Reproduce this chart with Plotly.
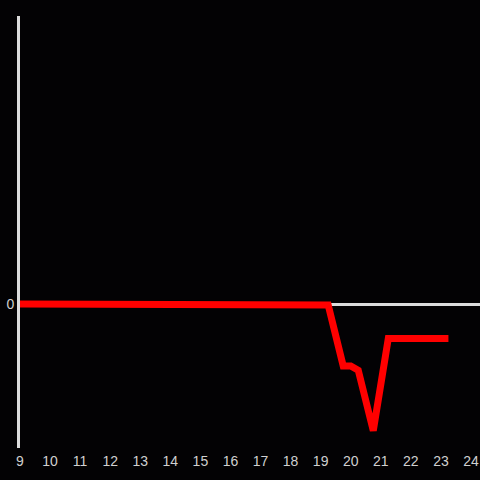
import plotly.graph_objects as go

hours = [9.0, 12.5, 12.75, 19.25, 19.75, 20.0, 20.25, 20.75, 21.25, 23.25]
values = [0.0, 0.0, -0.02, -0.02, -1.29, -1.29, -1.38, -2.64, -0.72, -0.72]

x_ticks = list(range(9, 25))
y_ticks = [0]

fig = go.Figure()
fig.add_trace(go.Scatter(
    x=hours, y=values, mode="lines",
    line=dict(color="#ff0000", width=7),
    hoverinfo="skip", showlegend=False,
))

fig.update_layout(
    width=480, height=480,
    margin=dict(l=20, r=0, t=16, b=32),
    paper_bgcolor="#030204", plot_bgcolor="#030204",
    font=dict(family="Liberation Sans, Arial, sans-serif", size=14, color="#d0d0d0"),
    xaxis=dict(range=[9, 24.3], tickvals=x_ticks, ticktext=[str(t) for t in x_ticks],
               showgrid=False, zeroline=False, showline=False, ticks="", automargin=False,
               ticklabelstandoff=3),
    yaxis=dict(range=[-3, 6], tickvals=y_ticks, ticktext=["0"],
               showgrid=False, zeroline=True, zerolinecolor="#dcdcdc", zerolinewidth=3,
               showline=True, linecolor="#dcdcdc", linewidth=3, ticks="", automargin=False),
)

fig.write_html(
    "out.html",
    config={"displayModeBar": False},
    post_script="document.body.style.margin='0';document.body.style.background='#030204';",
)
